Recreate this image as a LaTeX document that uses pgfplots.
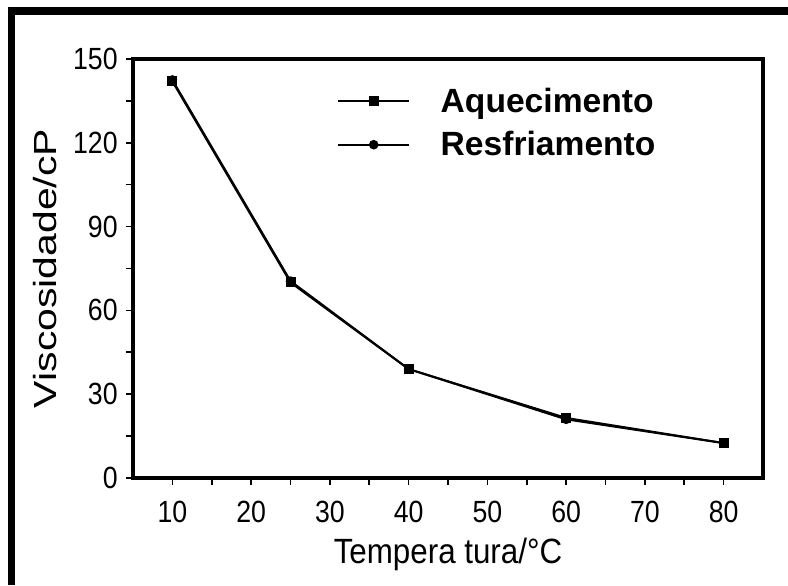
\documentclass[border=0pt]{standalone}
\usepackage{pgfplots}
\pgfplotsset{compat=1.18}
\usepackage{fontspec}
\setmainfont{Liberation Sans}
\begin{document}
\begin{tikzpicture}
\useasboundingbox (0,0) rectangle (591pt,438.75pt);
\fill[white] (0,0) rectangle (591pt,438.75pt);
\draw[line width=5.5pt] (8.8pt,0pt) -- (8.8pt,430.5pt) -- (591pt,430.5pt);
\draw[line width=5.5pt] (6pt,430.5pt) -- (8.8pt,430.5pt);
\begin{axis}[
  at={(99.75pt,80.25pt)}, anchor=south west,
  scale only axis, width=472.5pt, height=314.25pt,
  xmin=5, xmax=85, ymin=0, ymax=150,
  xtick={10,20,...,80}, ytick={0,30,...,150},
  minor x tick num=1, minor y tick num=1,
  tick align=outside, xtick pos=bottom, ytick pos=left,
  major tick length=5pt, minor tick length=5pt,
  every tick/.style={black, line width=1.2pt},
  axis line style={line width=3.2pt},
  /pgf/number format/assume math mode=true,
  tick label style={font=\fontsize{20}{22}\selectfont},
  xticklabel={\scalebox{1}[1.15]{\pgfmathprintnumber{\tick}}},
  yticklabel={\scalebox{1}[1.15]{\pgfmathprintnumber{\tick}}},
  xticklabel style={yshift=-9pt},
  yticklabel style={xshift=-3pt},
  xlabel={\scalebox{1}[1.12]{Tempera tura/°C}},
  ylabel={\scalebox{1.28}[1]{Viscosidade/cP}},
  xlabel style={at={(axis description cs:0.5,-0.183)}, anchor=center, font=\fontsize{23.5}{26}\selectfont},
  ylabel style={at={(axis description cs:-0.1397,0.5)}, anchor=center, font=\fontsize{24}{26}\selectfont},
  legend style={draw=none, fill=none, at={(axis description cs:0.324,0.935)}, anchor=north west,
    font=\bfseries\fontsize{24}{28}\selectfont, row sep=11pt, inner sep=0pt,
    nodes={inner sep=1pt}},
  legend cell align=left,
  /tikz/every odd column/.append style={column sep=22pt},
  legend image code/.code={\draw[#1, mark repeat=2, mark phase=2] plot coordinates {(0pt,0pt) (26.5pt,0pt) (53pt,0pt)};},
]
\addplot[black, line width=1.5pt, mark=square*, mark size=3pt] coordinates {
 (10,142) (25,70) (40,39) (60,21.5) (80,12.5)};
\addlegendentry{\scalebox{1.05}[1.05]{Aquecimento}}
\addplot[black, line width=1.5pt, mark=*, mark size=2.8pt] coordinates {
 (10,142.5) (25,70.5) (40,39) (60,21) (80,12.5)};
\addlegendentry{\scalebox{1.05}[1.05]{Resfriamento}}
\end{axis}
\end{tikzpicture}
\end{document}
